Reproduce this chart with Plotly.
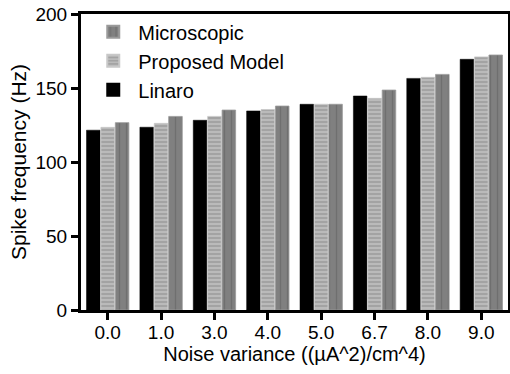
import plotly.graph_objects as go

categories = ["0.0", "1.0", "3.0", "4.0", "5.0", "6.7", "8.0", "9.0"]
linaro = [121.5, 123.5, 128.2, 134.5, 139.0, 144.6, 156.5, 169.4]
proposed = [123.4, 126.1, 130.8, 135.4, 139.0, 143.0, 157.2, 171.0]
microscopic = [126.6, 130.8, 135.1, 137.8, 139.0, 148.6, 159.2, 172.3]
y_ticks = [0, 50, 100, 150, 200]

fig = go.Figure()
fig.add_trace(go.Bar(
    x=categories, y=linaro, name="Linaro",
    marker=dict(color="#000000", line=dict(color="#000000", width=0.5)),
    legendrank=3,
))
fig.add_trace(go.Bar(
    x=categories, y=proposed, name="Proposed Model",
    marker=dict(color="#a3a3a3", line=dict(color="#c8c8c8", width=0.8),
                pattern=dict(shape="-", fgcolor="#dcdcdc", bgcolor="#a3a3a3",
                             size=4, solidity=0.4)),
    legendrank=2,
))
fig.add_trace(go.Bar(
    x=categories, y=microscopic, name="Microscopic",
    marker=dict(color="#808080", line=dict(color="#9a9a9a", width=0.8),
                pattern=dict(shape="|", fgcolor="#5e5e5e", bgcolor="#808080",
                             size=7, solidity=0.2)),
    legendrank=1,
))

font_family = "Liberation Sans, Arial, sans-serif"
fig.update_layout(
    width=510, height=374,
    margin=dict(l=81, r=2, t=14, b=64),
    paper_bgcolor="white", plot_bgcolor="white",
    barmode="group", bargap=0.19, bargroupgap=0.06,
    font=dict(family=font_family, color="#000000", size=19),
    showlegend=True,
    legend=dict(x=0.017, y=1.006, xanchor="left", yanchor="top",
                bgcolor="rgba(0,0,0,0)", font=dict(size=20),
                traceorder="normal", itemwidth=40, tracegroupgap=0,
                itemsizing="constant"),
    xaxis=dict(
        showline=True, linecolor="black", linewidth=3, mirror=True,
        ticks="outside", ticklen=7, tickwidth=3, tickcolor="black",
        tickfont=dict(size=19), range=[-0.5, 7.5], automargin=False,
        ticklabelstandoff=-4,
        title=dict(text="Noise variance ((µA^2)/cm^4)", font=dict(size=20), standoff=2),
        showgrid=False, zeroline=False,
    ),
    yaxis=dict(
        showline=True, linecolor="black", linewidth=3, mirror=True,
        ticks="outside", ticklen=7, tickwidth=3, tickcolor="black",
        tickvals=y_ticks, range=[0, 200], tickfont=dict(size=19), automargin=False,
        title=dict(text="Spike frequency (Hz)", font=dict(size=21), standoff=4),
        showgrid=False, zeroline=False,
    ),
)

fig.write_html("out.html", config={"displayModeBar": False})

# remove the default page margin so the figure sits at the window's corner
with open("out.html", "r", encoding="utf-8") as f:
    html = f.read()
html = html.replace("<body>", '<body style="margin:0;padding:0;overflow:hidden">', 1)
with open("out.html", "w", encoding="utf-8") as f:
    f.write(html)
